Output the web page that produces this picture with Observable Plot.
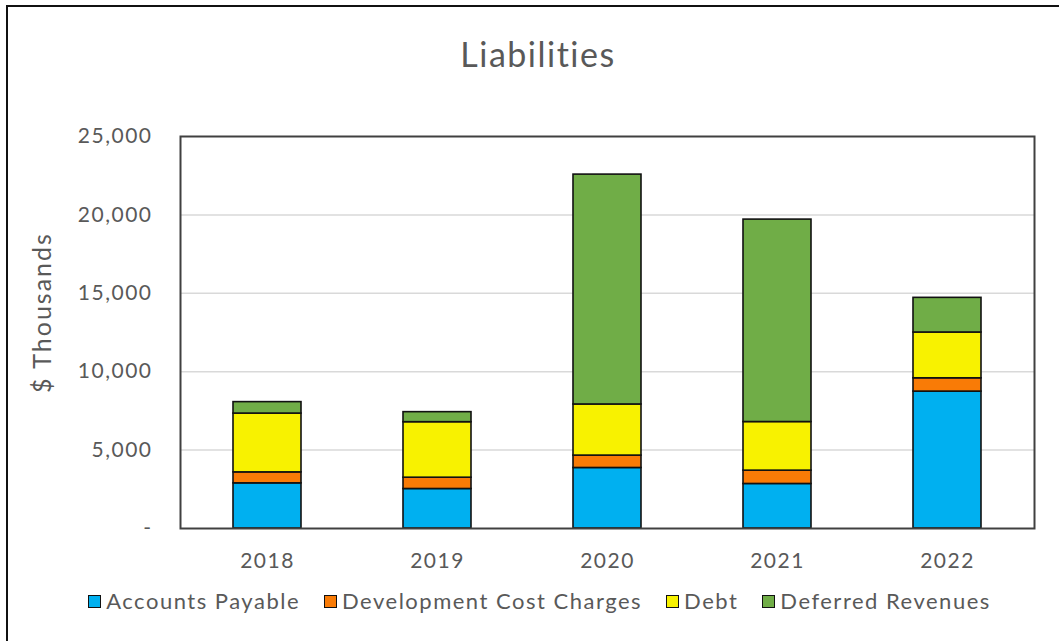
<!DOCTYPE html>
<html><head><meta charset="utf-8">
<script src="https://cdn.jsdelivr.net/npm/d3@7"></script>
<script src="https://cdn.jsdelivr.net/npm/@observablehq/plot@0.6"></script>
<style>
body{margin:0;background:#fff;font-family:Lato,sans-serif;}
#wrap{position:relative;width:1059px;height:641px;overflow:hidden;background:#fff;}
#border{position:absolute;left:6px;top:5px;width:1100px;height:700px;border:2px solid #111;border-right:none;border-bottom:none;pointer-events:none}
#title{height:110px;box-sizing:border-box;padding-top:37px;padding-left:17px;font-size:34px;line-height:34px;text-align:center;color:#595959;letter-spacing:1.5px;}
#chart svg{display:block}
#chart g[aria-label="x-axis tick label"] text{letter-spacing:1.5px}
#chart g[aria-label="y-axis tick label"] text{letter-spacing:1.5px}
#chart g[aria-label="text"] text{letter-spacing:2px}
#legend{display:flex;justify-content:center;align-items:center;height:26px;padding-left:20px;font-size:22px;color:#595959;line-height:26px;letter-spacing:1.5px;}
.item{display:flex;align-items:center;margin:0 12px;}
.sw{width:11px;height:11px;border:1.5px solid #111;margin-right:5px;}
</style></head>
<body>
<div id="wrap">
  <div id="border"></div>
  <div id="title"></div>
  <div id="chart"></div>
  <div id="legend"></div>
</div>
<script>
const title = "Liabilities";
const yLabel = "$ Thousands";
const years = ["2018", "2019", "2020", "2021", "2022"];
const seriesNames = ["Accounts Payable", "Development Cost Charges", "Debt", "Deferred Revenues"];
const seriesColors = ["#00B0F0", "#F97B06", "#F8F200", "#70AD47"];
const accountsPayable = [2880, 2520, 3860, 2840, 8730];
const developmentCostCharges = [700, 720, 790, 850, 850];
const debt = [3750, 3540, 3260, 3100, 2920];
const deferredRevenues = [730, 640, 14660, 12910, 2210];
const yTicks = [0, 5000, 10000, 15000, 20000, 25000];

const seriesValues = [accountsPayable, developmentCostCharges, debt, deferredRevenues];
const rows = [];
seriesNames.forEach((s, i) => years.forEach((y, j) => rows.push({year: y, series: s, value: seriesValues[i][j]})));

document.getElementById("title").textContent = title;

const fmt = d3.format(",");
const chart = Plot.plot({
  width: 1059, height: 478,
  marginTop: 26, marginBottom: 60, marginLeft: 180, marginRight: 25,
  style: {fontFamily: "Lato, sans-serif", fontSize: "21px", color: "#595959", background: "white", overflow: "visible"},
  x: {domain: years, paddingInner: 0.6, paddingOuter: 0.3, label: null},
  y: {domain: [0, 25000], label: null},
  color: {domain: seriesNames, range: seriesColors},
  marks: [
    Plot.ruleY(yTicks.filter(t => t > 0 && t < 25000), {stroke: "#d9d9d9", strokeWidth: 1.5}),
    Plot.barY(rows, {x: "year", y: "value", fill: "series", order: seriesNames, stroke: "#111", strokeWidth: 1.6}),
    Plot.frame({stroke: "#404040", strokeWidth: 2}),
    Plot.axisX({tickSize: 0, tickPadding: 25, label: null, fill: "#595959"}),
    Plot.axisY({ticks: yTicks, tickSize: 0, tickPadding: 28, label: null, fill: "#595959", tickFormat: d => d === 0 ? "-" : fmt(d)}),
    Plot.text([yLabel], {frameAnchor: "left", dx: -138, dy: -20, rotate: -90, textAnchor: "middle", lineAnchor: "middle", fontSize: 25, fill: "#595959"})
  ]
});
document.getElementById("chart").appendChild(chart);

const legend = document.getElementById("legend");
seriesNames.forEach((s, i) => {
  const it = document.createElement("div");
  it.className = "item";
  const sw = document.createElement("div");
  sw.className = "sw";
  sw.style.background = seriesColors[i];
  const t = document.createElement("span");
  t.textContent = s;
  it.appendChild(sw); it.appendChild(t);
  legend.appendChild(it);
});
</script>
</body></html>
